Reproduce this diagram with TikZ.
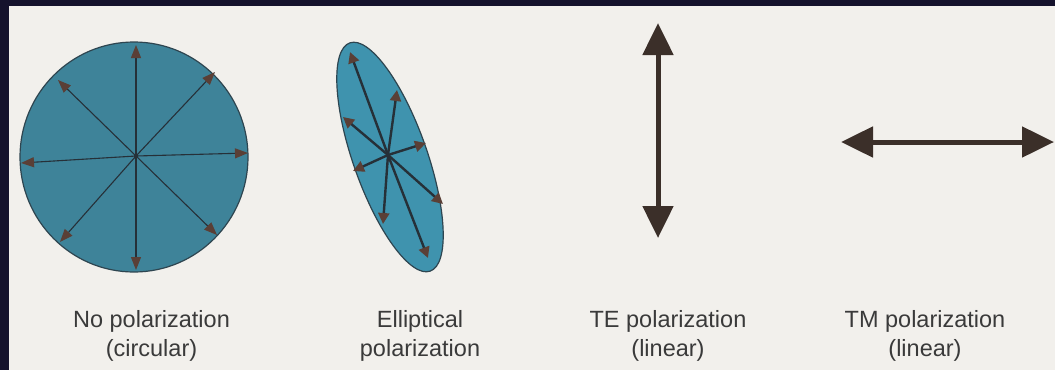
\documentclass[tikz,border=0pt]{standalone}
\usepackage{fontspec}
\setmainfont{Liberation Sans}
\usetikzlibrary{arrows.meta,shapes.geometric}
\definecolor{paper}{HTML}{F2F0EC}
\definecolor{frame}{HTML}{15122C}
\definecolor{teal1}{HTML}{3E8399}
\definecolor{teal2}{HTML}{3F93AE}
\definecolor{rim}{HTML}{2E4550}
\definecolor{shaft}{HTML}{263038}
\definecolor{headc}{HTML}{5A3F36}
\definecolor{bigarrow}{HTML}{3B2F29}
\definecolor{txt}{HTML}{3A3A3A}
\tikzset{
  x=1pt, y=-1pt,
  disc/.style={ellipse, draw=rim, line width=1.2pt, inner sep=0pt},
  thinvec/.style={draw=shaft, line width=1.1pt,
    -{Triangle[length=13pt,width=10pt,fill=headc,color=headc]}},
  thickvec/.style={draw=shaft, line width=2.4pt,
    -{Triangle[length=11pt,width=11pt,fill=headc,color=headc]}},
  linvec/.style={draw=bigarrow, line width=5pt,
    {Triangle[length=32pt,width=30pt]}-{Triangle[length=32pt,width=30pt]}},
  lab/.style={anchor=base, text=txt, inner sep=0pt,
    font=\fontsize{23.5}{28}\selectfont}
}
\begin{document}
\begin{tikzpicture}
\useasboundingbox (0,0) rectangle (1055,370);
\fill[frame] (0,0) rectangle (1055,370);
\fill[paper] (9,6) rectangle (1055,370);

% No polarization (circular)
\node[disc, fill=teal1, minimum width=228pt, minimum height=230pt] (circ) at (134,157) {};
\coordinate (c0) at (136,156);
\coordinate (ct1) at (136,45);
\coordinate (ct2) at (136,270);
\coordinate (ct3) at (21,163);
\coordinate (ct4) at (248,153);
\coordinate (ct5) at (58,80);
\coordinate (ct6) at (215,72);
\coordinate (ct7) at (60,242);
\coordinate (ct8) at (217,235);
\foreach \t in {ct1,ct2,ct3,ct4,ct5,ct6,ct7,ct8}
  \draw[thinvec] (c0) -- (\t);
\fill[shaft] (c0) circle (2pt);

% Elliptical polarization
\node[disc, fill=teal2, minimum width=74pt, minimum height=242pt, rotate=19.4] (ell) at (390,157) {};
\coordinate (e0) at (388,155);
\coordinate (et1) at (350,52);
\coordinate (et2) at (397,90);
\coordinate (et3) at (343,117);
\coordinate (et4) at (426,143);
\coordinate (et5) at (353,171);
\coordinate (et6) at (443,204);
\coordinate (et7) at (383,224);
\coordinate (et8) at (428,258);
\foreach \t in {et1,et2,et3,et4,et5,et6,et7,et8}
  \draw[thickvec] (e0) -- (\t);

% TE polarization
\coordinate (te1) at (658,23);
\coordinate (te2) at (658,238);
\draw[linvec] (te1) -- (te2);

% TM polarization
\coordinate (tm1) at (841,142);
\coordinate (tm2) at (1054,142);
\draw[linvec] (tm1) -- (tm2);

% labels
\node[lab] (l1a) at (151.5,327) {No polarization};
\node[lab] (l1b) at (151.5,356) {(circular)};
\node[lab] (l2a) at (420,327) {Elliptical};
\node[lab] (l2b) at (420,356) {polarization};
\node[lab] (l3a) at (668,327) {TE polarization};
\node[lab] (l3b) at (668,356) {(linear)};
\node[lab] (l4a) at (925,327) {TM polarization};
\node[lab] (l4b) at (925,356) {(linear)};
\end{tikzpicture}
\end{document}
